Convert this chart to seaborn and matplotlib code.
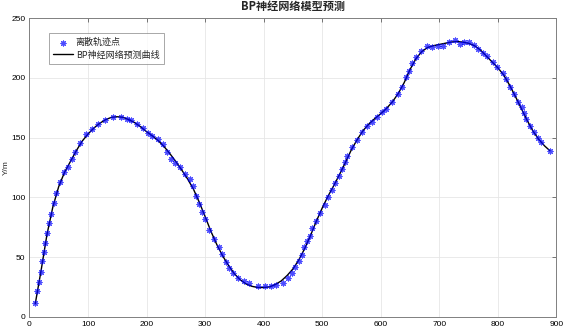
import matplotlib
matplotlib.use("Agg")
import numpy as np
import pandas as pd
import seaborn as sns
import matplotlib.pyplot as plt

sns.set_theme(style="whitegrid")
plt.rcParams['font.family'] = ['Noto Sans CJK SC', 'DejaVu Sans']

# === Data ===
# discrete trajectory points
point_x = [10.2, 12.6, 16, 19.5, 22.2, 25.1, 27.3, 30.2, 33.1, 37, 41.6, 46.1, 52.9, 59.7,
           65.5, 72.4, 78.5, 87, 96.8, 107, 117.8, 129.2, 142, 156, 166, 173, 183.8, 193.2,
           202, 209.7, 220.2, 228.2, 234.5, 241.3, 248.7, 257, 265.2, 273.7, 280, 283.9,
           290, 294.5, 299.6, 307.2, 315.2, 324.3, 328.9, 335.7, 341.4, 348.2, 356.7, 366.4,
           375.5, 390.9, 402.3, 412, 421.1, 432.5, 441.5, 448.6, 453.5, 459.7, 464.9, 469.4,
           474, 479.1, 483, 489.3, 495.6, 504.2, 510.3, 516.1, 522.3, 528.1, 533.7, 539.4,
           542.8, 551.3, 558.8, 567.8, 576.4, 584.4, 593.5, 602.5, 609.6, 618.7, 629, 636.6,
           642.4, 647.5, 653.2, 660.5, 669.1, 678.3, 687.3, 697, 706.3, 717.4, 727.1, 736,
           743, 751, 759, 766.4, 773.9, 781.7, 790.9, 799.4, 808, 814.8, 820.1, 827.3, 834.6,
           841.5, 844.9, 848.9, 854.6, 861.4, 868.2, 874.5, 889.2]
point_y = [11.2, 21.3, 29, 37.7, 46.9, 54.4, 61.5, 69.8, 78.2, 86.3, 95.5, 103.6, 112.8, 121.4,
           125.6, 132.3, 138.2, 145.7, 152.7, 157.2, 161.1, 164.5, 167.5, 167.5, 165.8, 164.7,
           161, 157.8, 154.2, 151.3, 148.6, 144.4, 137.7, 132, 128.5, 125.1, 119.8, 115.3,
           109.2, 100.8, 94.1, 87.9, 82, 72.6, 65.1, 58.6, 52.3, 45.8, 41, 36.9, 32.7, 29.6,
           28, 26, 25.4, 25.7, 26.3, 28.5, 32.8, 36.9, 41.4, 47, 52, 58.1, 63.7, 67.8, 74.5,
           80.4, 87.1, 93.8, 100, 106.1, 112.2, 117.8, 124, 129.8, 134.8, 141.9, 147.7, 154.9,
           160, 163.3, 167.2, 171.2, 174, 179.7, 186.2, 192.4, 200.5, 206, 212.2, 217.2,
           222.2, 226.7, 225.6, 226.7, 226.8, 230.1, 231.7, 228.7, 230.3, 230, 227.6, 224.2,
           220.6, 218.3, 213.3, 209.1, 203.8, 198.8, 192.6, 186.4, 180, 175.9, 170.3, 165.3,
           159.7, 154.9, 149.4, 146.1, 139]

# BP network predicted curve
curve_x = [10, 20, 30, 40, 50, 60, 70, 80, 90, 100, 110, 120, 130, 140, 150, 160, 170, 180,
           190, 200, 210, 220, 230, 240, 250, 260, 270, 280, 290, 300, 310, 320, 330, 340,
           350, 360, 370, 380, 390, 400, 410, 420, 430, 440, 450, 460, 470, 480, 490, 500,
           510, 520, 530, 540, 550, 560, 570, 580, 590, 600, 610, 620, 630, 640, 650, 660,
           670, 680, 690, 700, 710, 720, 730, 740, 750, 760, 770, 780, 790, 800, 810, 820,
           830, 840, 850, 860, 870, 880, 889]
curve_y = [11, 39, 69, 92, 109, 121, 130, 139, 147, 153, 158, 162, 165, 167, 167.5, 167,
           165, 162.5, 159, 155, 151.5, 147.5, 142.5, 136.5, 130, 123, 115.5, 107, 96, 84,
           71.5, 60.5, 51, 43, 36, 31, 27.5, 25.5, 24.5, 24.5, 25, 27, 30, 34.5, 40, 47.5,
           57, 68, 80, 91, 101, 110, 119.5, 129.5, 140, 148.5, 156, 161.5, 166, 170, 174.5,
           180, 187, 196, 207, 216, 222, 225.5, 227, 228, 229, 230, 230.5, 230, 229, 227,
           223.5, 218.5, 213.5, 208.5, 202.5, 194, 184.5, 174.5, 164.5, 155.5, 148.5, 143, 139]

points = pd.DataFrame({"x": point_x, "y": point_y})
curve = pd.DataFrame({"x": curve_x, "y": curve_y})

fig = plt.figure(figsize=(5.66, 3.31), dpi=100)
ax = fig.add_axes([0.052, 0.043, 0.931, 0.902])
ax.set_facecolor("white")

sns.lineplot(data=curve, x="x", y="y", ax=ax, color="black", linewidth=1.0,
             label="BP神经网络预测曲线", zorder=2)
sns.scatterplot(data=points, x="x", y="y", ax=ax, marker=(8, 2, 0), s=13,
                color="blue", linewidth=0.8, alpha=0.7, label="离散轨迹点", zorder=3)

ax.set_xlim(0, 900)
ax.set_ylim(0, 250)
ax.set_xticks(range(0, 901, 100))
ax.set_yticks(range(0, 251, 50))
ax.set_xlabel("")
ax.set_ylabel("Y/m", fontsize=6, family=["Liberation Sans", "DejaVu Sans"], labelpad=1)
ax.set_title("BP神经网络模型预测", fontsize=8, fontweight="bold", pad=6)

ax.grid(True, color="#e6e6e6", linewidth=0.6)
ax.tick_params(direction="in", length=3, width=0.5, colors="#444444", labelsize=6,
               top=True, right=True, pad=3)
for lbl in ax.get_xticklabels() + ax.get_yticklabels():
    lbl.set_family(["Liberation Sans", "DejaVu Sans"])
    lbl.set_color("black")
for sp in ax.spines.values():
    sp.set_color("#808080")
    sp.set_linewidth(0.7)

handles, labels = ax.get_legend_handles_labels()
leg = ax.legend(handles[::-1], labels[::-1], loc="upper left",
                bbox_to_anchor=(0.028, 0.965), fontsize=6.5, frameon=True,
                fancybox=False, edgecolor="#808080", handlelength=2.2,
                borderpad=0.5, labelspacing=0.4, handletextpad=0.3)
leg.get_frame().set_linewidth(0.6)

fig.savefig("out.png", dpi=100)
